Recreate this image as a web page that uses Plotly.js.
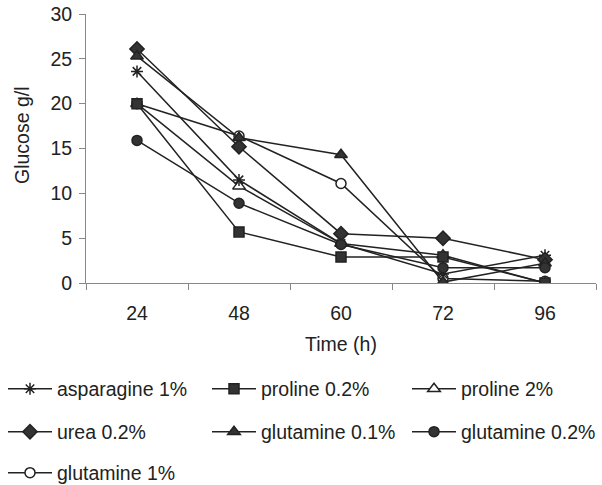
<!DOCTYPE html>
<html><head><meta charset="utf-8">
<script src="https://cdn.plot.ly/plotly-3.0.1.min.js"></script>
<style>html,body{margin:0;padding:0;background:#fff}</style>
</head><body>
<div id="chart" style="width:602px;height:485px"></div>
<script>
const times = ['24', '48', '60', '72', '96'];
const asparagine1 = [23.6, 11.5, 4.4, 1.0, 3.1];
const proline02 = [20.0, 5.7, 2.9, 2.9, 0.0];
const proline2 = [20.0, 10.8, 4.4, 3.1, 0.0];
const urea02 = [26.1, 15.2, 5.5, 5.0, 2.6];
const glutamine01 = [25.3, 16.2, 14.3, 0.1, 2.2];
const glutamine02 = [15.9, 8.9, 4.3, 1.7, 1.7];
const glutamine1 = [20.0, 16.4, 11.1, 0.5, 0.2];
const seriesNames = ['asparagine 1%', 'proline 0.2%', 'proline 2%', 'urea 0.2%', 'glutamine 0.1%', 'glutamine 0.2%', 'glutamine 1%'];

const lineCol = '#222';
function tr(name, y, symbol, size, legend, fill) {
  return {
    type: 'scatter', mode: 'lines+markers', x: times, y: y, name: name, legend: legend,
    line: {color: lineCol, width: 1.5},
    marker: {symbol: symbol, size: size, color: fill, line: {color: lineCol, width: 1.5}}
  };
}
// open-marker series drawn first so the filled markers sit on top, as in the reference
const data = [
  tr(seriesNames[6], glutamine1, 'circle', 10, 'legend7', '#fff'),
  tr(seriesNames[2], proline2, 'triangle-up', 11, 'legend3', '#fff'),
  tr(seriesNames[0], asparagine1, 'asterisk-open', 10, 'legend', '#222'),
  tr(seriesNames[3], urea02, 'diamond', 11, 'legend4', '#333'),
  tr(seriesNames[4], glutamine01, 'triangle-up', 11, 'legend5', '#333'),
  tr(seriesNames[5], glutamine02, 'circle', 10, 'legend6', '#333'),
  tr(seriesNames[1], proline02, 'square', 10, 'legend2', '#333')
];
const font = {family: 'Liberation Sans, Arial, sans-serif', size: 19.5, color: '#222'};
function leg(xpx, ypx) {
  return {orientation: 'h', xref: 'container', yref: 'container', x: (xpx - 5) / 602, y: 1 - ypx / 485,
    xanchor: 'left', yanchor: 'middle', itemwidth: 44, font: font,
    bgcolor: 'rgba(0,0,0,0)', borderwidth: 0};
}
const layout = {
  width: 602, height: 485,
  margin: {l: 86, r: 6, t: 14, b: 202},
  paper_bgcolor: '#fff', plot_bgcolor: '#fff',
  font: font,
  showlegend: true,
  legend: leg(8, 389), legend2: leg(212, 389), legend3: leg(412, 389),
  legend4: leg(8, 432), legend5: leg(212, 432), legend6: leg(412, 432),
  legend7: leg(8, 473),
  xaxis: {
    type: 'category', range: [-0.5, 4.5], tickson: 'boundaries',
    ticks: 'outside', ticklen: 6, tickcolor: '#888', showline: true, linecolor: '#888', linewidth: 1,
    showgrid: false, zeroline: false, tickfont: font, ticklabelstandoff: 13,
    title: {text: 'Time (h)', font: font, standoff: 13}
  },
  yaxis: {
    range: [0, 30], dtick: 5, ticks: 'outside', ticklen: 6, tickcolor: '#888',
    showline: true, linecolor: '#888', linewidth: 1, showgrid: false, zeroline: false,
    tickfont: font, ticklabelstandoff: 3
  },
  annotations: [{
    text: 'Glucose g/l', textangle: -90, showarrow: false, font: font,
    xref: 'paper', yref: 'paper', x: (22 - 86) / 510, y: (283 - 135) / 269,
    xanchor: 'center', yanchor: 'middle'
  }]
};
Plotly.newPlot('chart', data, layout, {displayModeBar: false, staticPlot: true});
</script>
</body></html>
